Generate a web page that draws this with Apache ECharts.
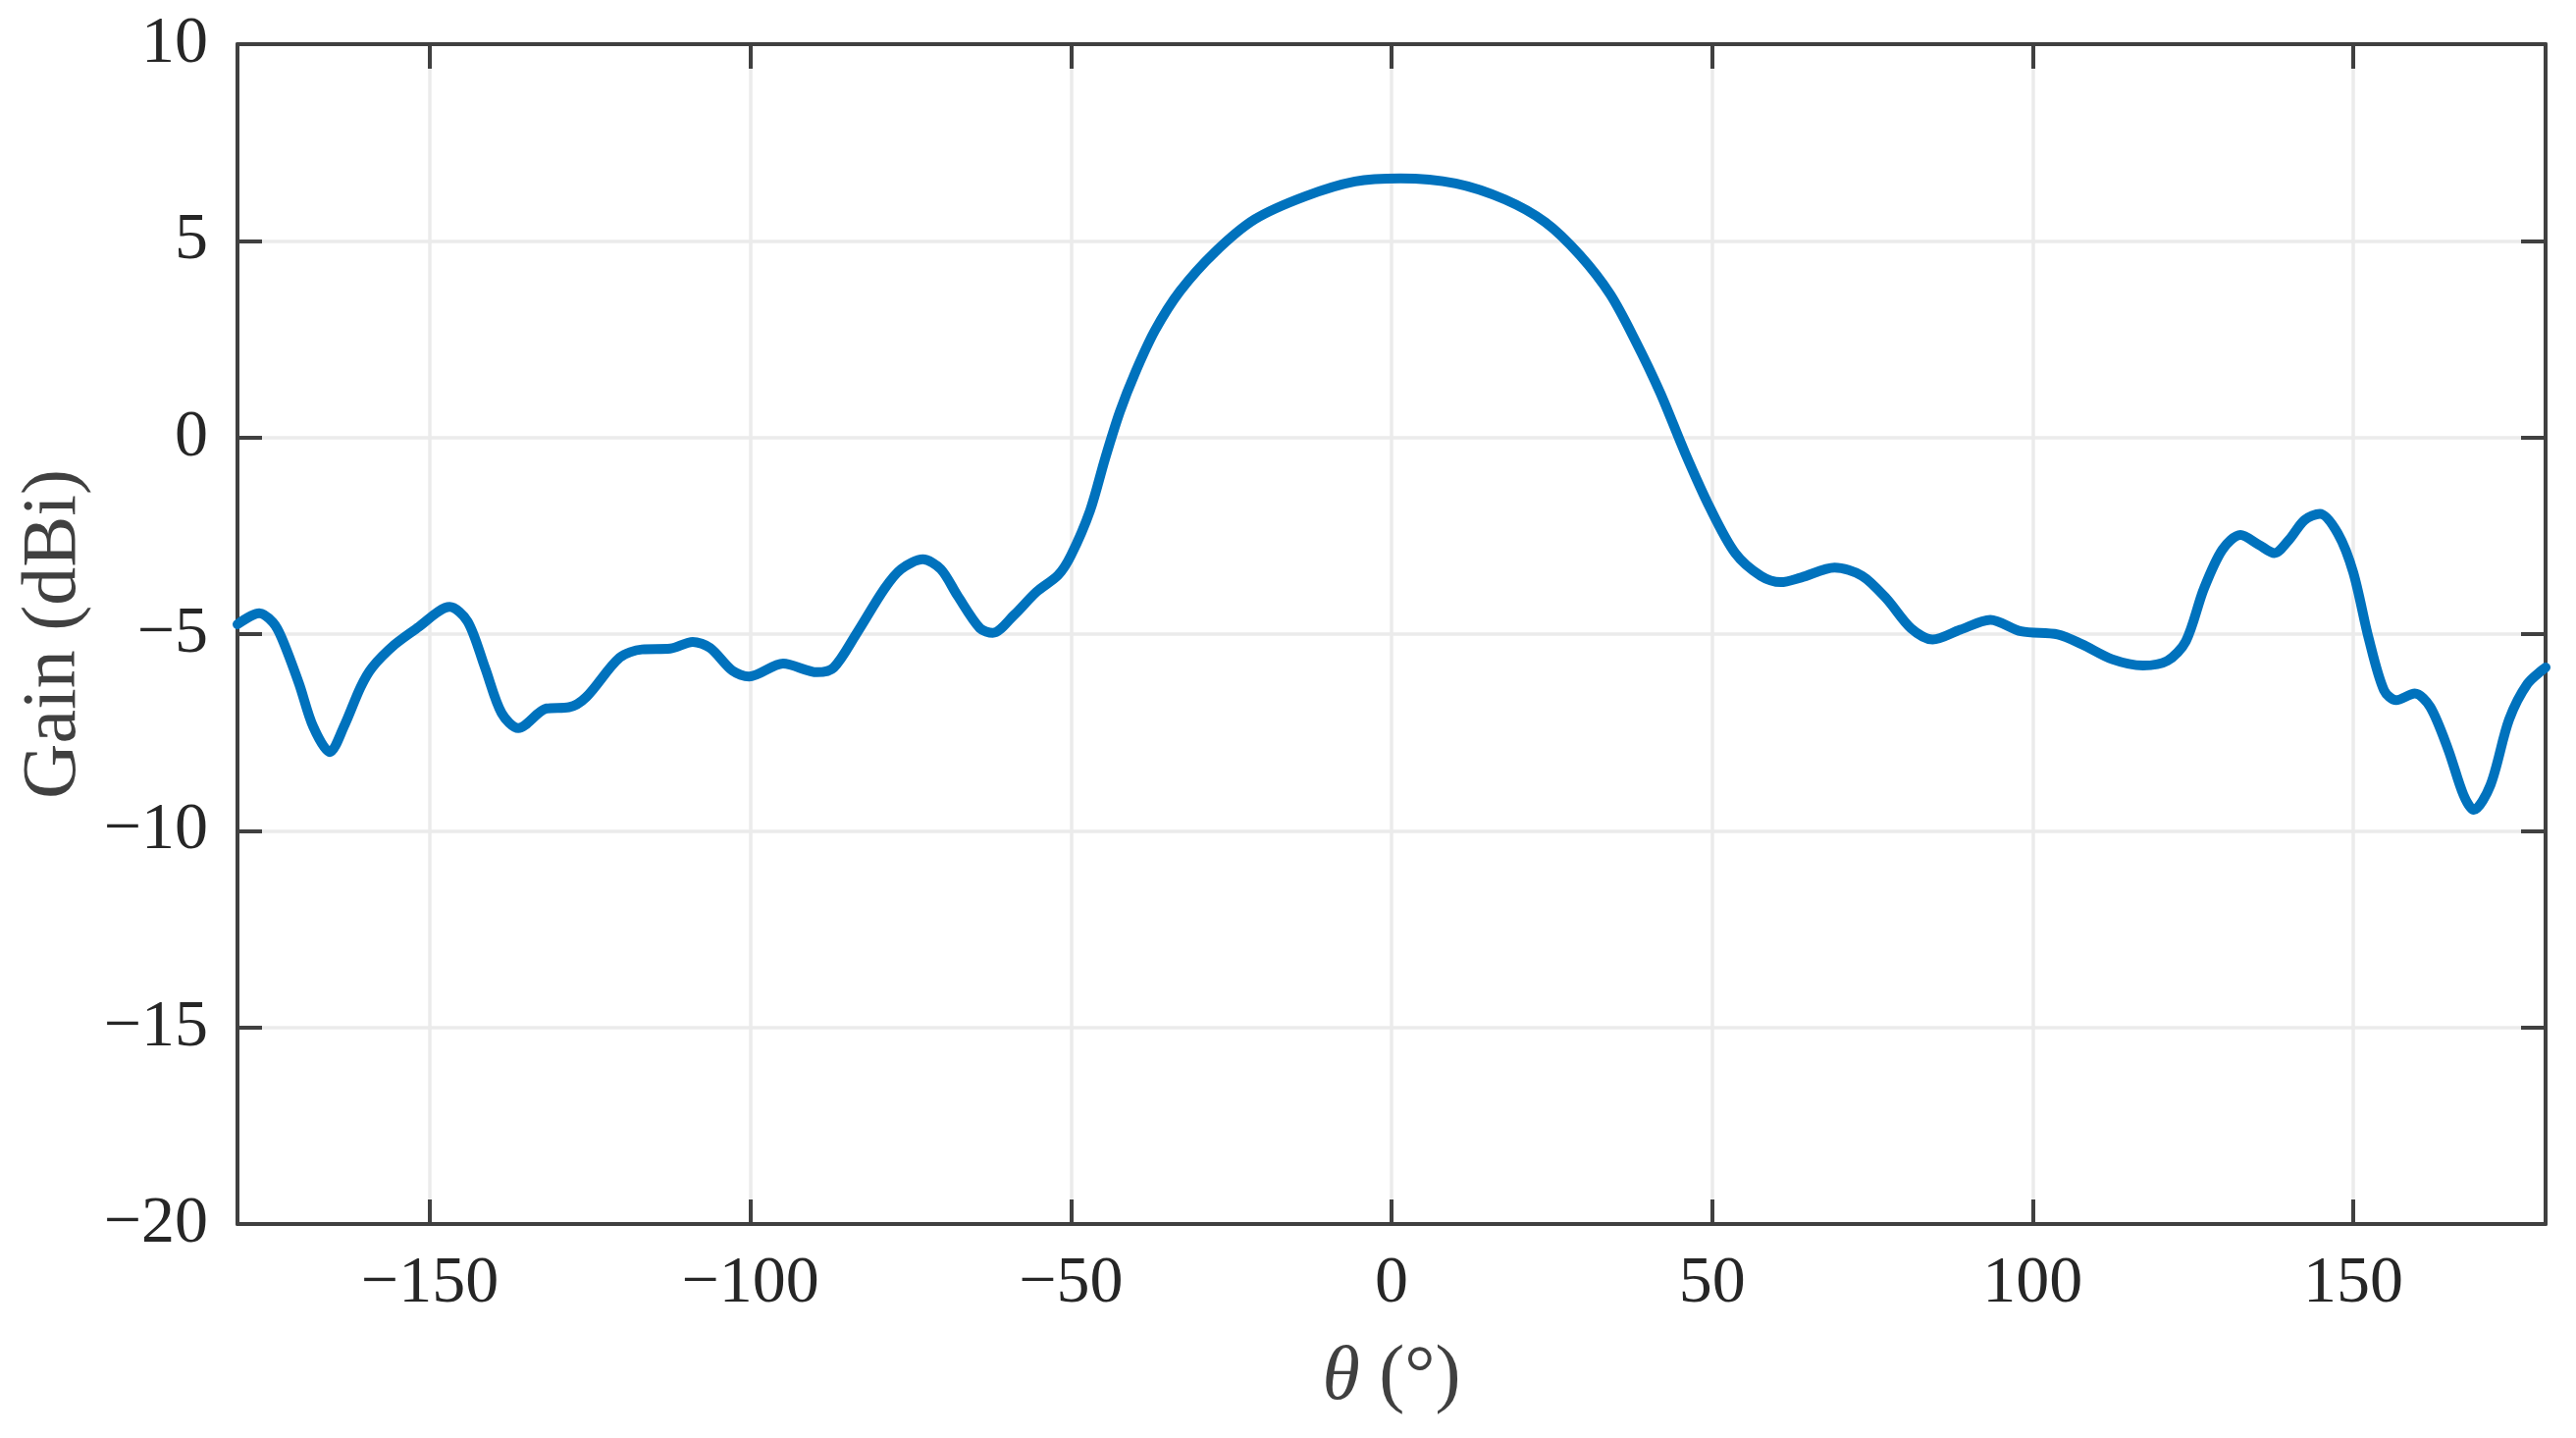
<!DOCTYPE html>
<html>
<head>
<meta charset="utf-8">
<script src="https://cdn.jsdelivr.net/npm/echarts@6/dist/echarts.min.js"></script>
<style>
  html, body { margin: 0; padding: 0; background: #fff; }
  #chart { width: 2625px; height: 1465px; }
</style>
</head>
<body>
<div id="chart"></div>
<script>
// angle (deg) and gain (dBi)
const theta = [
  -180, -176.6, -174.5, -173.1, -170.4, -168.2, -165.6, -163.4, -160.8, -159.0,
  -155.5, -152.0, -146.9, -144.1, -141.4, -138.8, -136.2, -131.8, -128.3, -125.6,
  -120.4, -116.9, -112.5, -109.0, -106.3, -102.8, -100.2, -94.9, -89.6, -87.0,
  -83.5, -79.1, -76.5, -73.1, -70.3, -67.7, -64.2, -62.2, -58.9, -55.4,
  -52.0, -50.0, -47.0, -44.7, -42.4, -40.0, -36.9, -33.0, -27.5, -21.3,
  -13.5, -5.7, 1.4, 10.0, 17.7, 24.0, 29.4, 34.1, 38.0, 41.9,
  45.8, 49.7, 53.6, 57.6, 60.7, 63.9, 69.1, 73.4, 77.2, 81.0,
  84.4, 88.7, 93.4, 98.2, 103.9, 107.7, 112.4, 117.2, 121.0, 123.9,
  126.7, 129.6, 132.4, 135.3, 137.7, 140.0, 142.4, 144.8, 147.6, 150.0,
  152.4, 154.8, 156.7, 159.6, 162.0, 164.8, 167.2, 168.8, 171.4, 174.3,
  177.2, 180
];
const gain = [
  -4.75, -4.47, -4.7, -5.1, -6.26, -7.35, -8.0, -7.35, -6.35, -5.85,
  -5.27, -4.85, -4.31, -4.68, -5.85, -7.01, -7.39, -6.89, -6.86, -6.6,
  -5.6, -5.39, -5.37, -5.2, -5.35, -5.93, -6.08, -5.75, -5.97, -5.85,
  -5.0, -3.85, -3.35, -3.1, -3.35, -4.02, -4.85, -4.97, -4.52, -3.93,
  -3.5, -3.0, -1.85, -0.55, 0.64, 1.64, 2.72, 3.72, 4.72, 5.55,
  6.13, 6.51, 6.59, 6.46, 6.05, 5.47, 4.63, 3.64, 2.47, 1.14,
  -0.4, -1.8, -2.94, -3.52, -3.68, -3.56, -3.31, -3.52, -4.1, -4.85,
  -5.14, -4.89, -4.64, -4.93, -5.01, -5.26, -5.64, -5.8, -5.68, -5.18,
  -3.85, -2.85, -2.48, -2.73, -2.94, -2.6, -2.1, -1.94, -2.44, -3.43,
  -5.1, -6.43, -6.68, -6.51, -6.85, -7.93, -9.09, -9.47, -8.84, -7.18,
  -6.26, -5.85
];
const xTicks = [-150, -100, -50, 0, 50, 100, 150];

const font = "'Liberation Serif', 'Times New Roman', serif";
const axisColor = "#404040";
const tickStyle = { show: true, inside: true, length: 25, lineStyle: { color: axisColor, width: 4 } };
const gridStyle = { show: true, lineStyle: { color: "#ebebeb", width: 3.5 } };
const fmt = (v) => (v < 0 ? "\u2212" + Math.abs(v) : String(v));

const chart = echarts.init(document.getElementById("chart"));
chart.setOption({
  animation: false,
  backgroundColor: "#fff",
  grid: { left: 242, right: 31, top: 45, bottom: 218, containLabel: false },
  xAxis: [
    {
      type: "value",
      min: -180,
      max: 180,
      position: "bottom",
      axisLine: { show: true, onZero: false, lineStyle: { color: axisColor, width: 4 } },
      axisTick: { ...tickStyle, customValues: xTicks },
      axisLabel: {
        customValues: xTicks,
        formatter: fmt,
        color: "#262626",
        fontFamily: font,
        fontSize: 68,
        margin: 27,
      },
      splitLine: gridStyle,
      name: "{i|\u03b8} (\u00b0)",
      nameLocation: "middle",
      nameGap: 118,
      nameTextStyle: {
        color: axisColor,
        fontFamily: font,
        fontSize: 78,
        rich: { i: { fontStyle: "italic", fontFamily: font, fontSize: 78, color: axisColor } },
      },
    },
    {
      type: "value",
      min: -180,
      max: 180,
      position: "top",
      axisLine: { show: true, onZero: false, lineStyle: { color: axisColor, width: 4 } },
      axisTick: { ...tickStyle, customValues: xTicks },
      axisLabel: { show: false },
      splitLine: { show: false },
    },
  ],
  yAxis: [
    {
      type: "value",
      min: -20,
      max: 10,
      interval: 5,
      position: "left",
      axisLine: { show: true, onZero: false, lineStyle: { color: axisColor, width: 4 } },
      axisTick: tickStyle,
      axisLabel: {
        formatter: fmt,
        color: "#262626",
        fontFamily: font,
        fontSize: 68,
        margin: 30,
      },
      splitLine: gridStyle,
      name: "Gain (dBi)",
      nameLocation: "middle",
      nameGap: 146,
      nameTextStyle: { color: axisColor, fontFamily: font, fontSize: 78 },
    },
    {
      type: "value",
      min: -20,
      max: 10,
      interval: 5,
      position: "right",
      axisLine: { show: true, onZero: false, lineStyle: { color: axisColor, width: 4 } },
      axisTick: tickStyle,
      axisLabel: { show: false },
      splitLine: { show: false },
    },
  ],
  series: [
    {
      type: "line",
      xAxisIndex: 0,
      yAxisIndex: 0,
      data: theta.map((t, i) => [t, gain[i]]),
      smooth: 0.3,
      showSymbol: false,
      clip: true,
      lineStyle: { color: "#0072BD", width: 10, cap: "round", join: "round" },
    },
  ],
});
</script>
</body>
</html>
